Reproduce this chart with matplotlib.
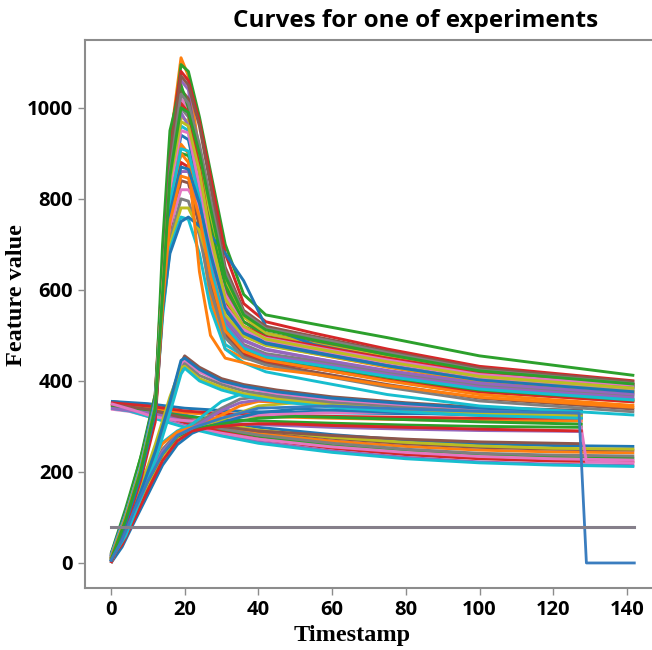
import matplotlib
matplotlib.use('Agg')
import matplotlib.pyplot as plt

# --- peak curves (rise to ~1000 near t=20, then slow decay) ---
A_T = [0, 4, 8, 12, 14, 16, 19, 21, 24, 27, 31, 36, 42, 55, 75, 100, 142]
A_CURVES = [
    [10, 100, 210, 360, 640, 920, 1110, 1070, 900, 720, 560, 500, 480, 460, 430, 398, 374],
    [5, 95, 200, 350, 620, 900, 1095, 1080, 980, 860, 700, 590, 545, 525, 495, 455, 412],
    [15, 110, 220, 370, 650, 930, 1080, 1060, 970, 850, 680, 570, 530, 505, 470, 432, 400],
    [8, 90, 190, 330, 600, 880, 1060, 1040, 880, 700, 540, 490, 470, 450, 420, 392, 370],
    [12, 100, 205, 345, 610, 870, 1040, 1020, 900, 760, 600, 530, 505, 485, 455, 420, 392],
    [0, 85, 185, 320, 580, 850, 1020, 1000, 850, 700, 560, 510, 488, 468, 440, 410, 385],
    [18, 115, 225, 365, 630, 860, 1000, 980, 830, 660, 530, 480, 460, 445, 418, 390, 367],
    [6, 92, 195, 335, 590, 830, 980, 970, 880, 760, 620, 540, 505, 482, 452, 418, 390],
    [10, 100, 200, 340, 585, 810, 960, 950, 780, 600, 480, 455, 445, 432, 408, 382, 360],
    [14, 105, 210, 350, 600, 800, 940, 930, 820, 680, 555, 505, 485, 465, 437, 407, 382],
    [4, 88, 188, 325, 570, 780, 920, 900, 740, 580, 470, 450, 440, 428, 402, 376, 354],
    [20, 120, 230, 370, 610, 790, 900, 895, 840, 740, 610, 530, 498, 476, 446, 414, 386],
    [9, 96, 198, 338, 575, 760, 880, 870, 760, 620, 505, 460, 442, 428, 402, 376, 354],
    [16, 108, 215, 355, 590, 770, 860, 860, 780, 660, 535, 488, 468, 450, 423, 395, 371],
    [2, 86, 186, 322, 555, 730, 840, 835, 740, 610, 500, 455, 438, 420, 392, 362, 338],
    [11, 102, 206, 346, 570, 740, 820, 820, 780, 700, 590, 520, 490, 470, 440, 408, 380],
    [7, 94, 196, 332, 550, 710, 800, 795, 720, 600, 495, 452, 435, 415, 386, 356, 332],
    [13, 104, 208, 348, 560, 700, 780, 780, 730, 650, 545, 498, 478, 460, 432, 402, 377],
    [3, 90, 190, 328, 540, 690, 760, 755, 680, 560, 470, 440, 420, 400, 370, 345, 325],
    [17, 112, 220, 360, 555, 680, 750, 760, 740, 720, 680, 620, 520, 480, 448, 415, 388],
    [5, 92, 195, 335, 580, 800, 900, 880, 640, 500, 450, 440, 428, 415, 390, 364, 342],
    [10, 110, 230, 340, 700, 950, 1050, 1000, 820, 650, 515, 470, 450, 435, 408, 380, 358],
    [0, 80, 180, 310, 560, 820, 1010, 990, 870, 720, 575, 520, 497, 478, 450, 418, 392],
    [12, 98, 202, 342, 595, 845, 990, 960, 810, 655, 525, 476, 456, 440, 414, 386, 363],
    [8, 96, 200, 338, 605, 890, 1070, 1050, 960, 830, 650, 555, 520, 498, 465, 428, 398],
    [15, 106, 212, 352, 598, 820, 950, 945, 830, 700, 565, 515, 494, 474, 446, 414, 390],
    [6, 94, 198, 336, 590, 860, 1030, 1010, 920, 800, 640, 550, 515, 495, 462, 424, 394],
    [9, 98, 204, 344, 600, 840, 970, 960, 860, 720, 580, 520, 492, 472, 442, 410, 384],
    [14, 104, 210, 350, 585, 790, 910, 905, 800, 650, 520, 472, 452, 436, 410, 382, 358],
    [3, 88, 190, 330, 575, 770, 870, 865, 790, 680, 560, 505, 482, 462, 433, 402, 376],
    [11, 100, 204, 342, 565, 750, 850, 845, 760, 630, 510, 465, 446, 428, 400, 370, 346],
    [7, 95, 200, 340, 590, 850, 1000, 990, 900, 780, 630, 545, 512, 490, 458, 422, 393],
]

# --- curves starting near 350 and sinking to ~230 ---
B_T = [0, 5, 10, 20, 30, 40, 60, 80, 100, 120, 142]
B_CURVES = [
    [352, 348, 340, 325, 310, 298, 282, 270, 262, 258, 256],
    [348, 343, 333, 315, 298, 285, 268, 256, 248, 244, 242],
    [345, 340, 330, 310, 292, 278, 258, 245, 236, 232, 230],
    [350, 344, 332, 308, 288, 272, 252, 238, 229, 224, 222],
    [342, 336, 325, 302, 282, 266, 246, 232, 222, 217, 214],
    [355, 350, 340, 318, 302, 290, 274, 262, 254, 250, 248],
    [338, 333, 322, 300, 285, 272, 255, 243, 234, 229, 226],
    [346, 341, 331, 312, 295, 281, 263, 250, 241, 237, 235],
    [350, 345, 336, 320, 305, 292, 276, 265, 257, 252, 250],
    [340, 334, 322, 298, 279, 263, 243, 229, 220, 215, 212],
]

# --- curves starting near 350, staying ~300-330, stopping at t=128 ---
P_T = [0, 10, 20, 30, 40, 60, 80, 100, 128]
P_CURVES = [
    [355, 350, 340, 335, 332, 330, 328, 327, 326],
    [350, 342, 330, 325, 322, 318, 315, 313, 312],
    [345, 336, 322, 316, 312, 307, 303, 300, 298],
    [352, 345, 334, 328, 325, 322, 320, 318, 318],
    [340, 330, 316, 308, 304, 298, 294, 291, 289],
    [348, 338, 318, 300, 290, 280, 272, 266, 262],
]

# --- slow risers from 0, stopping at t=128 ---
C_T = [0, 3, 6, 10, 14, 18, 22, 26, 30, 35, 40, 50, 60, 80, 100, 128]
C_CURVES = [
    [10, 60, 120, 190, 250, 285, 300, 320, 340, 360, 365, 360, 355, 345, 338, 332],
    [5, 45, 100, 170, 235, 275, 295, 305, 315, 330, 345, 352, 350, 342, 336, 330],
    [15, 70, 135, 205, 265, 290, 305, 330, 355, 370, 372, 365, 358, 348, 340, 334],
    [0, 35, 85, 150, 215, 260, 285, 298, 308, 320, 330, 338, 336, 330, 325, 320],
    [20, 75, 140, 210, 262, 288, 298, 310, 325, 345, 355, 352, 346, 338, 331, 326],
    [8, 50, 110, 180, 240, 278, 292, 300, 305, 312, 318, 322, 320, 315, 310, 305],
    [12, 40, 90, 160, 225, 268, 290, 296, 300, 304, 306, 305, 302, 298, 294, 290],
    [3, 55, 115, 185, 245, 280, 296, 315, 335, 352, 358, 354, 348, 340, 333, 328],
]

# --- small peak near 450, stopping at t=128 ---
D_T = [0, 4, 8, 12, 16, 19, 20, 24, 30, 36, 45, 60, 80, 100, 128]
D_CURVES = [
    [0, 70, 150, 240, 350, 440, 455, 430, 405, 392, 380, 365, 352, 342, 335],
    [5, 75, 160, 250, 360, 435, 445, 420, 398, 385, 372, 358, 346, 338, 330],
    [10, 65, 145, 235, 340, 425, 438, 412, 392, 378, 366, 352, 341, 333, 326],
    [0, 80, 165, 260, 365, 430, 432, 405, 386, 372, 360, 347, 337, 329, 322],
    [8, 60, 140, 225, 330, 415, 428, 400, 380, 367, 355, 342, 332, 324, 318],
    [3, 72, 155, 245, 355, 445, 450, 425, 400, 388, 376, 362, 350, 340, 333],
]

# --- curves with a jump at t=128 ---
DROP_T = [0, 3, 6, 10, 14, 18, 22, 30, 40, 60, 80, 100, 127, 129, 142]
DROP_ZERO = [6, 50, 110, 180, 240, 280, 296, 318, 340, 345, 338, 333, 330, 0, 0]
DROP_LOW = [350, 343, 336, 325, 318, 314, 312, 318, 325, 330, 332, 331, 330, 222, 220]

FLAT_T = [0, 142]
FLAT_V = [80, 80]

plt.rcParams['font.family'] = ['Open Sans', 'DejaVu Sans']

fig = plt.figure(figsize=(6.52, 6.50), dpi=100)
ax = fig.add_axes([85/652, 62/650, 567/652, 548/650])

colors = plt.get_cmap('tab10').colors
k = 0
def draw(ts, ys, lw=2.1):
    global k
    ax.plot(ts, ys, color=colors[k % 10], lw=lw, solid_capstyle='butt')
    k += 1

for ys in B_CURVES:
    draw(B_T, ys)
for ys in P_CURVES:
    draw(P_T, ys)
draw(DROP_T, DROP_LOW)
for ys in C_CURVES:
    draw(C_T, ys)
for ys in D_CURVES:
    draw(D_T, ys)
for ys in A_CURVES:
    draw(A_T, ys)
ax.plot(DROP_T, DROP_ZERO, color='#3a7dbf', lw=2.0)
ax.plot(FLAT_T, FLAT_V, color='#857f8a', lw=2.2)

ax.set_xlim(-7.05, 146.8)
ax.set_ylim(-55, 1149)
ax.set_xticks(range(0, 141, 20))
ax.set_yticks(range(0, 1001, 200))
for s in ['left', 'bottom', 'top']:
    ax.spines[s].set_color('#8c8c8c')
    ax.spines[s].set_linewidth(1.5)
ax.spines['right'].set_visible(False)
ax.tick_params(colors='#8c8c8c', length=5, width=1, labelcolor='black', labelsize=14.5)
for lab in ax.get_xticklabels() + ax.get_yticklabels():
    lab.set_fontweight('bold')

fig.text(416/652, 1 - 21/650, 'Curves for one of experiments', ha='center', va='center',
         fontsize=17.5, fontweight='bold')
fig.text(352/652, 1 - 636/650, 'Timestamp', ha='center', va='center',
         fontsize=17.5, fontweight='bold', family='Liberation Serif')
fig.text(17/652, 1 - 295/650, 'Feature value', ha='center', va='center', rotation=90,
         fontsize=17.5, fontweight='bold', family='Liberation Serif')

fig.savefig('out.png', dpi=100)
